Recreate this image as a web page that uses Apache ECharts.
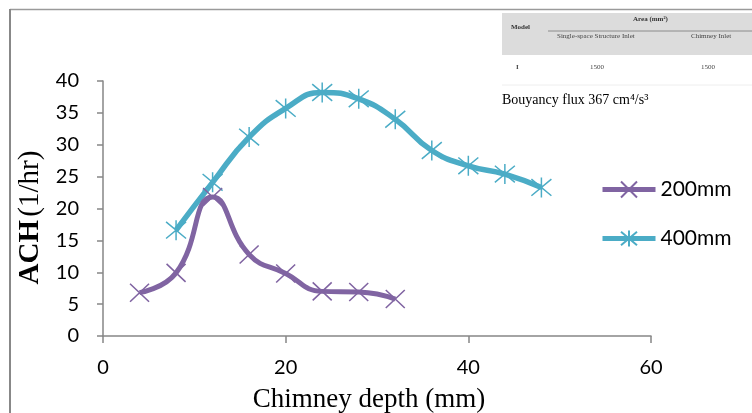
<!DOCTYPE html>
<html>
<head>
<meta charset="utf-8">
<script src="https://cdn.jsdelivr.net/npm/echarts@6/dist/echarts.min.js"></script>
<style>
  html, body { margin: 0; padding: 0; background: #fff; }
  #chart { width: 752px; height: 413px; }
</style>
</head>
<body>
<div id="chart"></div>
<script>
// Chimney depth (mm) vs. air changes per hour for two chimney heights
const depth200 = [4, 8, 12, 16, 20, 24, 28, 32];
const ach200   = [6.8, 9.9, 21.8, 12.8, 9.8, 7.0, 6.9, 5.8];

const depth400 = [8, 12, 16, 20, 24, 28, 32, 36, 40, 44, 48];
const ach400   = [16.6, 24.1, 31.2, 35.7, 38.2, 37.2, 34.0, 29.1, 26.7, 25.4, 23.3];

const seriesNames = ['200mm', '400mm'];
const seriesColors = ['#8064A2', '#4BACC6'];

const xTicks = { min: 0, max: 60, step: 20 };
const yTicks = { min: 0, max: 40, step: 5 };

// Marker outlines (stroked): a plain cross and a cross with a vertical bar
const crossSymbol = 'path://M0,0L20,20M20,0L0,20';
const starSymbol  = 'path://M0,0L20,20M20,0L0,20M10,-2L10,22';

const pair = (xs, ys) => xs.map((x, i) => [x, ys[i]]);

const chart = echarts.init(document.getElementById('chart'), null, { renderer: 'canvas' });

const axisGray = '#868686';
const tickFont = 'Lato, "Open Sans", sans-serif';
const serifFont = '"Liberation Serif", "Times New Roman", serif';

chart.setOption({
  animation: false,
  backgroundColor: '#ffffff',
  grid: { left: 103, right: 101, top: 81, bottom: 77, containLabel: false, outerBoundsMode: 'none' },
  legend: {
    orient: 'vertical',
    left: 595,
    top: 174,
    padding: 5,
    itemWidth: 53,
    itemHeight: 20,
    itemGap: 28,
    lineStyle: { width: 5 },
    textStyle: { fontFamily: tickFont, fontSize: 21, color: '#000' },
    data: seriesNames
  },
  xAxis: {
    type: 'value',
    min: xTicks.min,
    max: xTicks.max,
    interval: xTicks.step,
    name: 'Chimney depth (mm)',
    nameLocation: 'middle',
    nameGap: 50,
    nameTextStyle: { fontFamily: serifFont, fontSize: 27, color: '#000', padding: [0, 16, 0, 0] },
    axisLine: { show: true, lineStyle: { color: axisGray, width: 1.5 } },
    axisTick: { show: true, length: 7, lineStyle: { color: axisGray, width: 1.5 } },
    axisLabel: { fontFamily: tickFont, fontSize: 20, color: '#000', margin: 22 },
    splitLine: { show: false }
  },
  yAxis: {
    type: 'value',
    min: yTicks.min,
    max: yTicks.max,
    interval: yTicks.step,
    name: '{b|ACH} {n|(1/hr)}',
    nameLocation: 'middle',
    nameRotate: 90,
    nameGap: 50,
    nameTextStyle: {
      padding: [0, 18, 0, 0],
      rich: {
        b: { fontFamily: serifFont, fontSize: 29, fontWeight: 'bold', color: '#000' },
        n: { fontFamily: serifFont, fontSize: 29, fontWeight: 'normal', color: '#000' }
      }
    },
    axisLine: { show: true, lineStyle: { color: axisGray, width: 1.5 } },
    axisTick: { show: true, length: 6, lineStyle: { color: axisGray, width: 1.5 } },
    axisLabel: { fontFamily: tickFont, fontSize: 20, color: '#000', margin: 24 },
    splitLine: { show: false }
  },
  series: [
    {
      name: seriesNames[0],
      type: 'line',
      data: pair(depth200, ach200),
      smooth: 0.5,
      symbol: crossSymbol,
      symbolSize: [19, 18],
      lineStyle: { color: seriesColors[0], width: 5 },
      itemStyle: { color: 'rgba(0,0,0,0)', borderColor: seriesColors[0], borderWidth: 1.5 },
      z: 3
    },
    {
      name: seriesNames[1],
      type: 'line',
      data: pair(depth400, ach400),
      smooth: 0.5,
      symbol: starSymbol,
      symbolSize: [20, 20],
      lineStyle: { color: seriesColors[1], width: 5.5 },
      itemStyle: { color: 'rgba(0,0,0,0)', borderColor: seriesColors[1], borderWidth: 1.5 },
      z: 2
    }
  ],
  graphic: [
    // outer frame edges
    { type: 'line', shape: { x1: 10, y1: 9.5, x2: 752, y2: 9.5 }, style: { stroke: '#9a9a9a', lineWidth: 1.5 }, silent: true },
    { type: 'line', shape: { x1: 10, y1: 9, x2: 10, y2: 413 }, style: { stroke: '#888888', lineWidth: 2 }, silent: true },
    // model table
    { type: 'rect', shape: { x: 502, y: 13, width: 250, height: 42 }, style: { fill: '#dcdcdc' }, silent: true },
    { type: 'line', shape: { x1: 548, y1: 31, x2: 752, y2: 31 }, style: { stroke: '#777', lineWidth: 0.8 }, silent: true },
    { type: 'line', shape: { x1: 502, y1: 85, x2: 752, y2: 85 }, style: { stroke: '#eeeeee', lineWidth: 1 }, silent: true },
    { type: 'text', left: 511, top: 24, style: { text: 'Model', font: 'bold 7px ' + serifFont, fill: '#333' }, silent: true },
    { type: 'text', left: 633, top: 16, style: { text: 'Area (mm²)', font: 'bold 7px ' + serifFont, fill: '#333' }, silent: true },
    { type: 'text', left: 557, top: 33, style: { text: 'Single-space Structure Inlet', font: '7px ' + serifFont, fill: '#444' }, silent: true },
    { type: 'text', left: 691, top: 33, style: { text: 'Chimney Inlet', font: '7px ' + serifFont, fill: '#444' }, silent: true },
    { type: 'text', left: 516, top: 64, style: { text: 'I', font: 'bold 7px ' + serifFont, fill: '#444' }, silent: true },
    { type: 'text', left: 590, top: 64, style: { text: '1500', font: '7px ' + serifFont, fill: '#444' }, silent: true },
    { type: 'text', left: 701, top: 64, style: { text: '1500', font: '7px ' + serifFont, fill: '#444' }, silent: true },
    { type: 'text', left: 502, top: 93, style: { text: 'Bouyancy flux 367 cm⁴/s³', font: '14px ' + serifFont, fill: '#000' }, silent: true }
  ]
});
</script>
</body>
</html>
